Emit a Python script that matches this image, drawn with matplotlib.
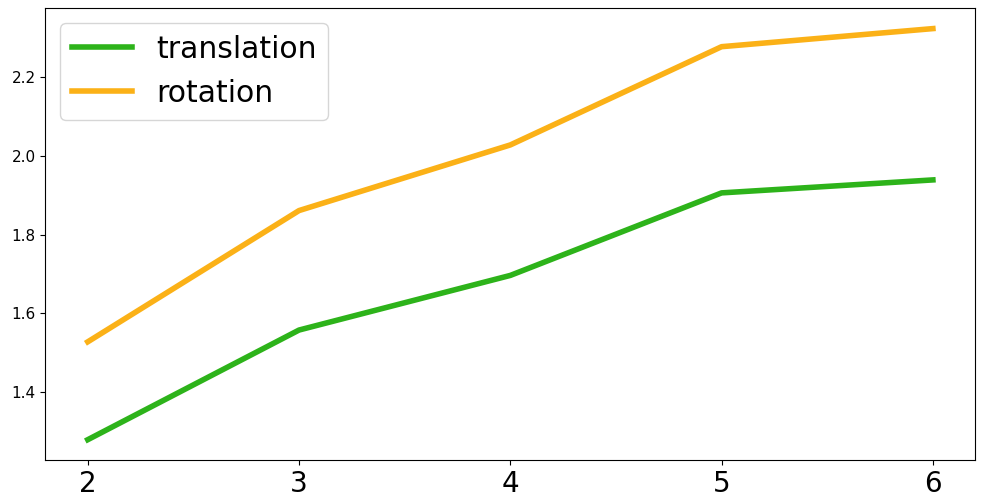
import matplotlib
matplotlib.use("Agg")
import matplotlib.pyplot as plt

# number of points on x axis
steps = [2, 3, 4, 5, 6]

# errors
translation = [1.278, 1.557, 1.696, 1.906, 1.939]
rotation = [1.527, 1.861, 2.028, 2.278, 2.324]

fig, ax = plt.subplots(figsize=(9.89, 5.03), dpi=100)

ax.plot(steps, translation, color='#2db31a', linewidth=4, label='translation')
ax.plot(steps, rotation, color='#fbb117', linewidth=4, label='rotation')

ax.set_xticks(steps)
ax.tick_params(axis='x', labelsize=20)
ax.tick_params(axis='y', labelsize=11)
ax.legend(fontsize=21.5, loc='upper left')

fig.subplots_adjust(left=0.046, right=0.986, top=0.984, bottom=0.085)
fig.savefig('out.png')
